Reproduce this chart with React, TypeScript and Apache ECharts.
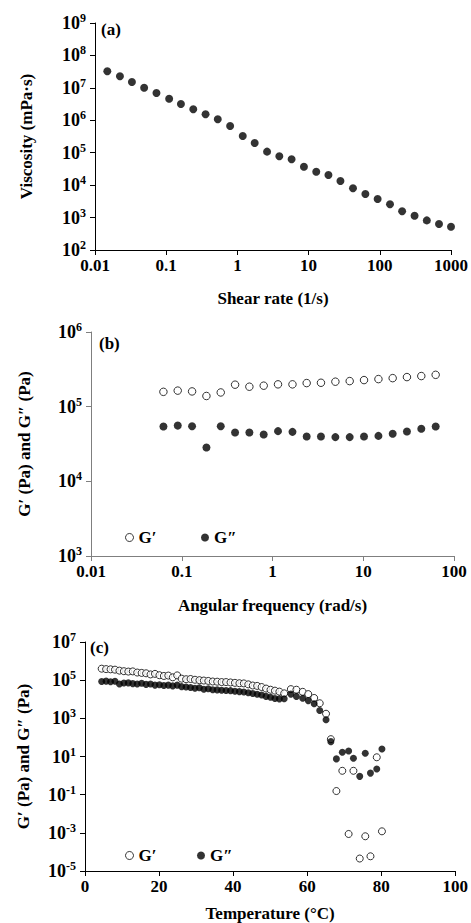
import React, { useEffect, useRef } from 'react';
import * as echarts from 'echarts';

// ---------- (a) viscosity vs shear rate ----------
const shearRate = [0.0149, 0.0224, 0.033, 0.049, 0.073, 0.11, 0.161, 0.24, 0.357, 0.53, 0.79, 1.19, 1.75, 2.61, 3.88, 5.77, 8.6, 12.8, 19.0, 28, 42, 62.7, 93.3, 139, 206, 308, 457, 679, 1000];
const viscosity = [3.24e7, 2.27e7, 1.52e7, 1.01e7, 6.95e6, 4.63e6, 3.18e6, 2.18e6, 1.53e6, 1.07e6, 6.67e5, 3.28e5, 2.0e5, 1.08e5, 7.76e4, 6.27e4, 3.71e4, 2.6e4, 2.06e4, 1.34e4, 8.0e3, 5.33e3, 3.74e3, 2.57e3, 1.56e3, 1.14e3, 818, 634, 524];

// ---------- (b) frequency sweep ----------
const angFreq = [0.0628, 0.0903, 0.13, 0.187, 0.269, 0.387, 0.556, 0.8, 1.15, 1.66, 2.38, 3.42, 4.93, 7.09, 10.2, 14.7, 21.1, 30.3, 43.6, 62.8];
const gPrimeB = [1.58e5, 1.64e5, 1.6e5, 1.39e5, 1.55e5, 1.97e5, 1.85e5, 1.91e5, 1.99e5, 1.99e5, 2.07e5, 2.09e5, 2.16e5, 2.2e5, 2.27e5, 2.34e5, 2.41e5, 2.49e5, 2.57e5, 2.67e5];
const gDoublePrimeB = [5.42e4, 5.58e4, 5.47e4, 2.84e4, 5.47e4, 4.51e4, 4.51e4, 4.24e4, 4.7e4, 4.6e4, 3.98e4, 3.98e4, 3.91e4, 3.91e4, 3.98e4, 4.06e4, 4.33e4, 4.65e4, 5.05e4, 5.42e4];

// ---------- (c) temperature sweep ----------
const temperature = [4.5, 5.7, 6.9, 8.1, 9.3, 10.5, 11.7, 12.9, 14.1, 15.3, 16.5, 17.7, 18.9, 20.1, 21.3, 22.5, 23.7, 24.9, 26.1, 27.3, 28.5, 29.7, 30.9, 32.1, 33.3, 34.5, 35.7, 36.9, 38.1, 39.3, 40.5, 41.7, 42.9, 44.1, 45.3, 46.5, 47.7, 48.9, 50.1, 51.3, 52.5, 53.8, 55.6, 57.1, 58.8, 60.3, 61.9, 63.4, 65.1, 66.4, 67.9, 69.5, 71.2, 72.5, 74.2, 75.7, 77.1, 78.8, 80.2];
const gPrimeC = [4.0e5, 3.8e5, 3.7e5, 3.55e5, 3.16e5, 2.95e5, 2.82e5, 2.88e5, 2.51e5, 2.4e5, 2.29e5, 2.0e5, 2.14e5, 1.82e5, 1.66e5, 1.74e5, 1.41e5, 1.78e5, 1.2e5, 1.12e5, 1.15e5, 1.05e5, 1.0e5, 9.55e4, 9.12e4, 8.51e4, 8.32e4, 7.94e4, 7.94e4, 7.59e4, 7.24e4, 6.92e4, 6.76e4, 6.03e4, 5.25e4, 5.01e4, 4.37e4, 3.63e4, 3.16e4, 2.82e4, 2.51e4, 2.04e4, 3.39e4, 3.16e4, 2.45e4, 1.86e4, 1.17e4, 6.17e3, 1.74e3, 81, 0.155, 1.78, 8.7e-4, 1.78, 4.5e-5, 6.6e-4, 5.9e-5, 9.1, 1.2e-3];
const gDoublePrimeC = [8.5e4, 8.9e4, 8.3e4, 8.7e4, 6.3e4, 7.1e4, 7.2e4, 6.6e4, 6.3e4, 6.9e4, 6.0e4, 6.3e4, 5.5e4, 5.75e4, 5.25e4, 5.5e4, 5.0e4, 5.5e4, 4.57e4, 4.37e4, 4.17e4, 3.8e4, 3.98e4, 3.31e4, 3.55e4, 3.16e4, 3.09e4, 2.95e4, 2.88e4, 2.82e4, 2.63e4, 2.51e4, 2.4e4, 2.19e4, 2.0e4, 1.82e4, 1.66e4, 1.41e4, 1.26e4, 1.1e4, 1.05e4, 1.07e4, 1.86e4, 1.41e4, 1.12e4, 8.5e3, 5.75e3, 2.57e3, 851, 60, 7.5, 16.6, 19.5, 8.1, 0.91, 14.8, 1.35, 2.19, 24.5];

const logTickLabels = ['0.01', '0.1', '1', '10', '100', '1000'];
const tempTickLabels = ['0', '20', '40', '60', '80', '100'];

const FONT = '"Liberation Serif", "Times New Roman", serif';

const supRich = {
  b: { fontFamily: FONT, fontWeight: 'bold', fontSize: 18, color: '#000', lineHeight: 22, verticalAlign: 'middle' },
  s: { fontFamily: FONT, fontWeight: 'bold', fontSize: 12, color: '#000', lineHeight: 11, verticalAlign: 'top' },
};

const powFormatter = (v: number) => {
  const e = Math.round(Math.log10(v));
  return `{b|10}{s|${e}}`;
};
const logXFormatter = (v: number) => {
  const e = Math.round(Math.log10(v));
  return logTickLabels[e + 2] ?? '';
};

function axisBase(color: string) {
  return {
    axisLine: { show: true, onZero: false, lineStyle: { color, width: 1 } },
    axisTick: { show: true, inside: false, length: 5, lineStyle: { color, width: 1 } },
    splitLine: { show: false },
    minorTick: { show: false },
    nameTextStyle: { fontFamily: FONT, fontWeight: 'bold', fontSize: 17, color: '#000' },
  };
}

const xLabel = { fontFamily: FONT, fontWeight: 'bold', fontSize: 17, color: '#000', margin: 7 };

export default function App() {
  const ref = useRef<HTMLDivElement>(null);
  useEffect(() => {
    if (!ref.current) return;
    const chart = echarts.init(ref.current, undefined, { renderer: 'svg' });
    const open = { color: '#fff', borderColor: '#000', borderWidth: 1 };
    const filled = { color: '#000' };
    const legendText = { fontFamily: FONT, fontWeight: 'bold', fontSize: 17, color: '#000' };
    const mkLegend = (name: string, style: any, left: number, top: number) => ({
      data: [{ name, icon: 'circle', itemStyle: style }],
      left, top, padding: 0, itemWidth: 8, itemHeight: 8, itemGap: 0,
      selectedMode: false, textStyle: legendText,
    });
    chart.setOption({
      animation: false,
      backgroundColor: '#fff',
      grid: [
        { left: 95, top: 23, width: 357, height: 227 },
        { left: 91, top: 332, width: 363, height: 224 },
        { left: 85, top: 642, width: 372, height: 232 },
      ],
      xAxis: [
        {
          type: 'log', logBase: 10, min: 0.01, max: 1000, gridIndex: 0,
          name: 'Shear rate (1/s)', nameLocation: 'middle', nameGap: 40,
          ...axisBase('#000'),
          axisLabel: { ...xLabel, formatter: logXFormatter },
        },
        {
          type: 'log', logBase: 10, min: 0.01, max: 100, gridIndex: 1,
          name: 'Angular frequency (rad/s)', nameLocation: 'middle', nameGap: 41,
          ...axisBase('#7f7f7f'),
          axisLabel: { ...xLabel, formatter: logXFormatter },
        },
        {
          type: 'value', min: 0, max: 100, interval: 20, gridIndex: 2,
          name: 'Temperature (°C)', nameLocation: 'middle', nameGap: 34,
          ...axisBase('#000'),
          axisLabel: { ...xLabel, formatter: (v: number) => tempTickLabels[Math.round(v / 20)] ?? '' },
        },
      ],
      yAxis: [
        {
          type: 'log', logBase: 10, min: 100, max: 1e9, gridIndex: 0,
          name: 'Viscosity (mPa·s)', nameLocation: 'middle', nameGap: 60, nameRotate: 90,
          ...axisBase('#000'),
          axisLabel: { formatter: powFormatter, rich: supRich, margin: 9 },
        },
        {
          type: 'log', logBase: 10, min: 1e3, max: 1e6, gridIndex: 1,
          name: 'G′ (Pa) and G″ (Pa)', nameLocation: 'middle', nameGap: 58, nameRotate: 90,
          ...axisBase('#7f7f7f'),
          axisLabel: { formatter: powFormatter, rich: supRich, margin: 9 },
        },
        {
          type: 'log', logBase: 10, min: 1e-5, max: 1e7, interval: 2, gridIndex: 2,
          name: 'G′ (Pa) and G″ (Pa)', nameLocation: 'middle', nameGap: 53, nameRotate: 90,
          ...axisBase('#000'),
          axisLabel: { formatter: powFormatter, rich: supRich, margin: 9 },
        },
      ],
      legend: [
        mkLegend('G′', open, 125, 529),
        mkLegend('G″', filled, 201, 529),
        mkLegend('G′', open, 125, 847),
        mkLegend('G″', filled, 197, 847),
      ],
      graphic: [
        { type: 'text', left: 101, top: 21, style: { text: '(a)', font: `bold 17px ${FONT}`, fill: '#000' } },
        { type: 'text', left: 99, top: 335, style: { text: '(b)', font: `bold 17px ${FONT}`, fill: '#000' } },
        { type: 'text', left: 90, top: 639, style: { text: '(c)', font: `bold 17px ${FONT}`, fill: '#000' } },
      ],
      series: [
        {
          name: 'Viscosity', type: 'scatter', xAxisIndex: 0, yAxisIndex: 0, symbolSize: 8,
          itemStyle: filled, data: shearRate.map((x, i) => [x, viscosity[i]]),
        },
        {
          name: 'G′', type: 'scatter', xAxisIndex: 1, yAxisIndex: 1, symbolSize: 7.5,
          itemStyle: open, data: angFreq.map((x, i) => [x, gPrimeB[i]]),
        },
        {
          name: 'G″', type: 'scatter', xAxisIndex: 1, yAxisIndex: 1, symbolSize: 8,
          itemStyle: filled, data: angFreq.map((x, i) => [x, gDoublePrimeB[i]]),
        },
        {
          name: 'G′', type: 'scatter', xAxisIndex: 2, yAxisIndex: 2, symbolSize: 7,
          itemStyle: open, data: temperature.map((x, i) => [x, gPrimeC[i]]),
        },
        {
          name: 'G″', type: 'scatter', xAxisIndex: 2, yAxisIndex: 2, symbolSize: 7,
          itemStyle: filled, data: temperature.map((x, i) => [x, gDoublePrimeC[i]]),
        },
      ],
    });
    return () => chart.dispose();
  }, []);
  return <div ref={ref} style={{ position: 'fixed', left: 0, top: 0, width: 471, height: 923 }} />;
}
